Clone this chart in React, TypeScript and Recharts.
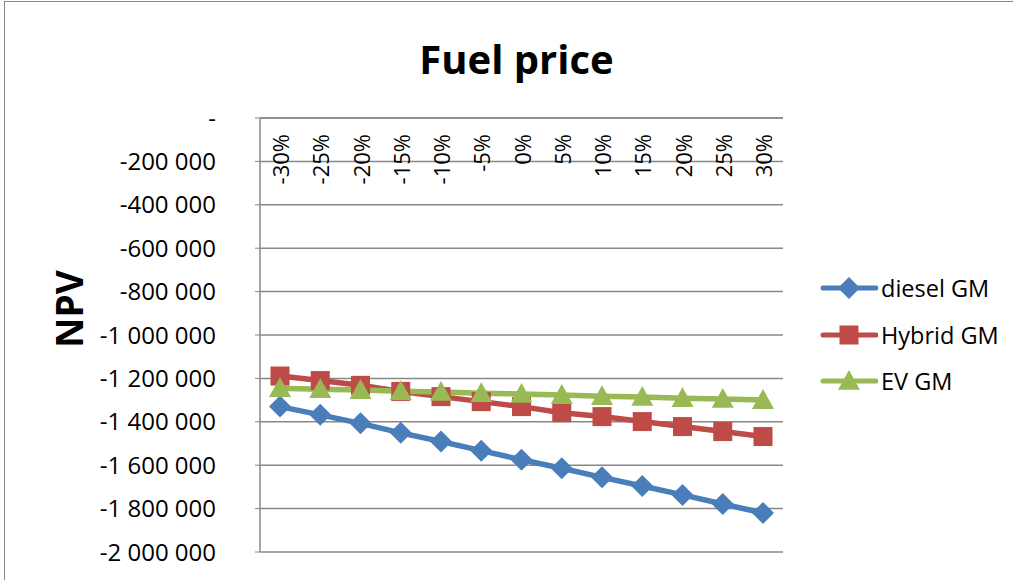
import { LineChart, Line, XAxis, YAxis, CartesianGrid } from 'recharts';

const categories = ['-30%', '-25%', '-20%', '-15%', '-10%', '-5%', '0%', '5%', '10%', '15%', '20%', '25%', '30%'];
const dieselGM = [-1330000, -1368000, -1407000, -1451000, -1491000, -1533000, -1575000, -1614000, -1656000, -1696000, -1737000, -1779000, -1820000];
const hybridGM = [-1189000, -1210000, -1232000, -1260000, -1284000, -1307000, -1330000, -1358000, -1376000, -1399000, -1422000, -1445000, -1468000];
const evGM = [-1245000, -1250000, -1254000, -1259000, -1263000, -1268000, -1272000, -1277000, -1282000, -1286000, -1291000, -1295000, -1300000];
const yTicks = [0, -200000, -400000, -600000, -800000, -1000000, -1200000, -1400000, -1600000, -1800000, -2000000];

const data = categories.map((c, i) => ({
  cat: c,
  diesel: dieselGM[i],
  hybrid: hybridGM[i],
  ev: evGM[i],
}));

const BLUE = '#4A7EBB';
const RED = '#BE4B48';
const GREEN = '#98B954';
const FONT = '"Open Sans", sans-serif';
const PLOT_TOP = 118;

const fmt = (v: number) => {
  if (v === 0) return '-';
  const s = Math.abs(v).toString().replace(/\B(?=(\d{3})+(?!\d))/g, ' ');
  return (v < 0 ? '-' : '') + s;
};

function Diamond({ cx, cy, fill, r = 11 }: any) {
  return <path d={`M${cx},${cy - r}L${cx + r},${cy}L${cx},${cy + r}L${cx - r},${cy}Z`} fill={fill} />;
}
function Square({ cx, cy, fill, r = 9.5 }: any) {
  return <rect x={cx - r} y={cy - r} width={r * 2} height={r * 2} fill={fill} />;
}
function Triangle({ cx, cy, fill, r = 11 }: any) {
  return <path d={`M${cx},${cy - r}L${cx + r},${cy + r * 0.8}L${cx - r},${cy + r * 0.8}Z`} fill={fill} />;
}

function XTick({ x, payload }: any) {
  const y0 = PLOT_TOP + 16;
  return (
    <text
      x={x}
      y={y0}
      transform={`rotate(-90, ${x}, ${y0})`}
      textAnchor="end"
      dominantBaseline="central"
      fontSize={22}
      fontFamily={FONT}
      fill="#000"
    >
      {payload.value}
    </text>
  );
}

const legendItems = [
  { name: 'diesel GM', color: BLUE, Mark: Diamond },
  { name: 'Hybrid GM', color: RED, Mark: Square },
  { name: 'EV GM', color: GREEN, Mark: Triangle },
];

function LegendBox() {
  return (
    <div style={{ position: 'absolute', left: 820, top: 265, width: 193, fontFamily: FONT, fontSize: 23.5 }}>
      {legendItems.map(({ name, color, Mark }) => (
        <div key={name} style={{ display: 'flex', alignItems: 'center', height: 46.5, whiteSpace: 'nowrap' }}>
          <svg width={58} height={26}>
            <line x1={3} y1={13} x2={56} y2={13} stroke={color} strokeWidth={5} strokeLinecap="round" />
            <Mark cx={29} cy={13} fill={color} r={name === 'Hybrid GM' ? 9.5 : 11} />
          </svg>
          <span style={{ marginLeft: 3 }}>{name}</span>
        </div>
      ))}
    </div>
  );
}

export default function App() {
  return (
    <div style={{ position: 'fixed', left: 0, top: 0, width: 1013, height: 580, background: '#fff', overflow: 'hidden' }}>
      <div style={{ position: 'absolute', left: 4, top: 1, width: 1009, height: 579, borderLeft: '1.5px solid #888', borderTop: '1.5px solid #888' }} />
      <div style={{ position: 'absolute', left: 0, width: 1033, top: 31, textAlign: 'center', fontFamily: FONT, fontWeight: 700, fontSize: 40 }}>
        Fuel price
      </div>
      <div style={{ position: 'absolute', left: 68, top: 309, transform: 'translate(-50%, -50%) rotate(-90deg)', fontFamily: FONT, fontWeight: 700, fontSize: 37 }}>
        NPV
      </div>
      <LineChart width={1013} height={580} data={data} margin={{ top: PLOT_TOP - 1, right: 230, bottom: 28, left: 0 }}>
        <CartesianGrid vertical={false} stroke="#888" strokeWidth={1.5} />
        <XAxis
          dataKey="cat"
          orientation="top"
          height={1}
          axisLine={{ stroke: '#888', strokeWidth: 1.5 }}
          tickLine={false}
          tick={<XTick />}
          interval={0}
          padding={{ left: 20, right: 20 }}
        />
        <YAxis
          width={260}
          domain={[-2000000, 0]}
          ticks={yTicks}
          interval={0}
          tickFormatter={fmt}
          axisLine={{ stroke: '#888', strokeWidth: 1.5 }}
          tickLine={{ stroke: '#888' }}
          tickSize={5}
          tickMargin={39}
          tick={{ fontSize: 24, fontFamily: FONT, fill: '#000' }}
        />
        <Line dataKey="diesel" name="diesel GM" stroke={BLUE} strokeWidth={5.5} isAnimationActive={false} dot={(p: any) => <Diamond key={p.index} cx={p.cx} cy={p.cy} fill={BLUE} />} />
        <Line dataKey="hybrid" name="Hybrid GM" stroke={RED} strokeWidth={5.5} isAnimationActive={false} dot={(p: any) => <Square key={p.index} cx={p.cx} cy={p.cy} fill={RED} />} />
        <Line dataKey="ev" name="EV GM" stroke={GREEN} strokeWidth={5.5} isAnimationActive={false} dot={(p: any) => <Triangle key={p.index} cx={p.cx} cy={p.cy} fill={GREEN} />} />
      </LineChart>
      <LegendBox />
    </div>
  );
}
